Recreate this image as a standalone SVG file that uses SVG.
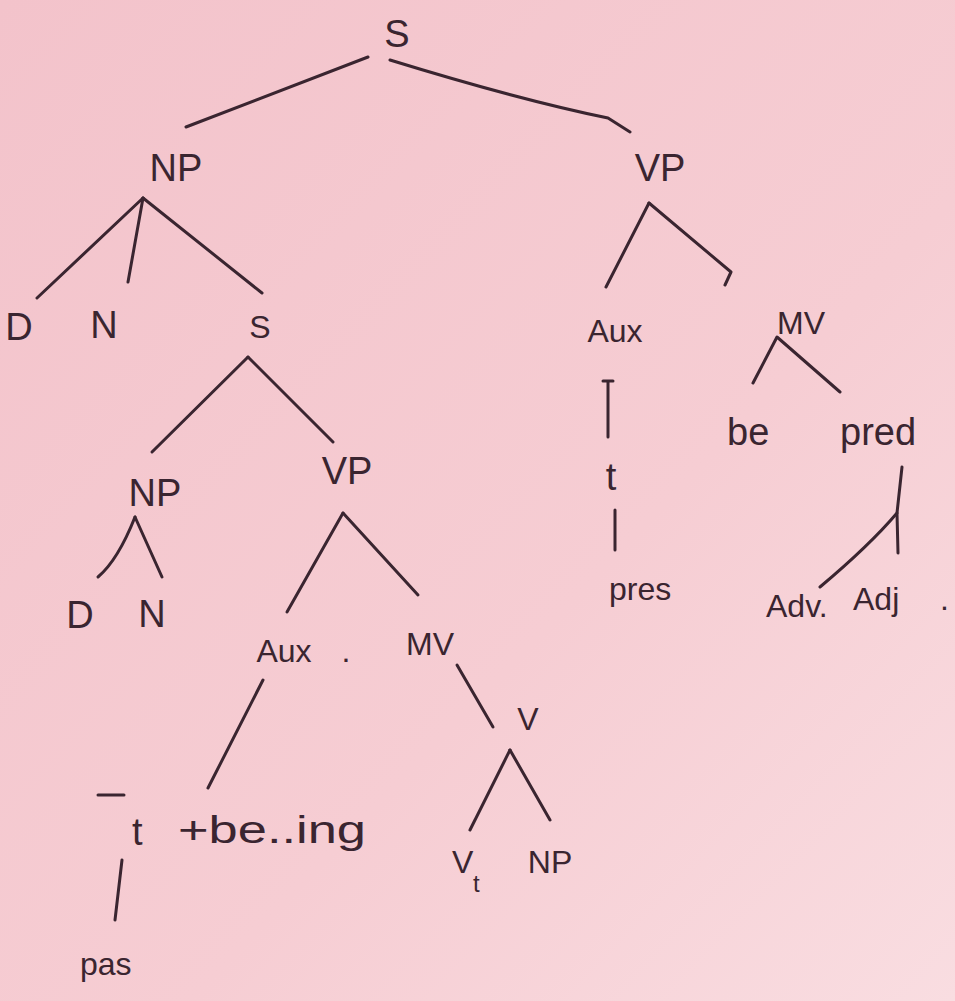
<svg xmlns="http://www.w3.org/2000/svg" width="955" height="1001" viewBox="0 0 955 1001">
<defs>
<linearGradient id="bg" x1="0" y1="0" x2="1" y2="1">
<stop offset="0" stop-color="#f3c3cb"/>
<stop offset="0.6" stop-color="#f6cdd3"/>
<stop offset="1" stop-color="#f9dde1"/>
</linearGradient>
<style>
text{font-family:"Liberation Sans","DejaVu Sans",sans-serif;fill:#3a2530;font-size:38px}
.sm{font-size:32px}
.edge{stroke:#3a2530;stroke-width:3;fill:none;stroke-linecap:round;stroke-linejoin:round}
</style>
</defs>
<rect width="955" height="1001" fill="url(#bg)"/>
<g id="connectors" class="edge">
<path d="M368,57 L186,127"/>
<path d="M390,60 Q520,100 608,118 L630,132"/>
<path d="M143,198 L37,298"/>
<path d="M143,198 L128,282"/>
<path d="M143,198 L262,293"/>
<path d="M649,203 L606,287"/>
<path d="M649,203 L731,272 L725,285"/>
<path d="M248,357 L152,452"/>
<path d="M248,357 L333,442"/>
<path d="M135,517 Q118,560 98,577"/>
<path d="M135,517 L162,577"/>
<path d="M343,513 L287,612"/>
<path d="M343,513 L418,595"/>
<path d="M263,680 L208,788"/>
<path d="M457,665 L493,727"/>
<path d="M510,750 L470,830"/>
<path d="M510,750 L550,820"/>
<path d="M122,860 L115,920"/>
<path d="M603,381 L613,381 M608,381 L608,437"/>
<path d="M615,510 L615,550"/>
<path d="M753,383 L777,337 L840,392"/>
<path d="M902,467 L897,513 Q870,545 820,587"/>
<path d="M897,513 L898,553"/>
</g>
<g id="n-S" text-anchor="middle"><text x="397" y="47">S</text></g>
<g id="n-NP" text-anchor="middle"><text x="176" y="181">NP</text></g>
<g id="n-VP" text-anchor="middle"><text x="660" y="181">VP</text></g>
<g id="n-D1" text-anchor="middle"><text x="19" y="340">D</text></g>
<g id="n-N1" text-anchor="middle"><text x="104" y="338">N</text></g>
<g id="n-S2" text-anchor="middle"><text x="260" y="338" class="sm">S</text></g>
<g id="n-Aux1" text-anchor="middle"><text x="615" y="342" class="sm">Aux</text></g>
<g id="n-MV1" text-anchor="middle"><text x="801" y="334" class="sm">MV</text></g>
<g id="n-NP2" text-anchor="middle"><text x="155" y="506">NP</text></g>
<g id="n-VP2" text-anchor="middle"><text x="347" y="484">VP</text></g>
<g id="n-D2" text-anchor="middle"><text x="80" y="628">D</text></g>
<g id="n-N2" text-anchor="middle"><text x="152" y="627">N</text></g>
<g id="n-Aux2" text-anchor="middle"><text x="284" y="662" class="sm">Aux</text><text x="346" y="662" class="sm">.</text></g>
<g id="n-MV2" text-anchor="middle"><text x="430" y="655" class="sm">MV</text></g>
<g id="n-V" text-anchor="middle"><text x="528" y="730" class="sm">V</text></g>
<g id="n-tbeing"><path class="edge" d="M98,795 L124,795"/><text x="132" y="845">t</text><text x="178" y="843" textLength="188" lengthAdjust="spacingAndGlyphs">+be..ing</text></g>
<g id="n-pas"><text x="80" y="975" class="sm">pas</text></g>
<g id="n-Vt"><text x="452" y="873" class="sm">V</text><text x="473" y="892" style="font-size:24px">t</text></g>
<g id="n-NP3" text-anchor="middle"><text x="550" y="873" class="sm">NP</text></g>
<g id="n-t" text-anchor="middle"><text x="611" y="490">t</text></g>
<g id="n-pres"><text x="609" y="600" class="sm">pres</text></g>
<g id="n-be"><text x="727" y="445">be</text></g>
<g id="n-pred"><text x="840" y="445">pred</text></g>
<g id="n-Adv"><text x="766" y="617" class="sm">Adv.</text></g>
<g id="n-Adj"><text x="853" y="610" class="sm">Adj</text><text x="940" y="610" class="sm">.</text></g>
</svg>
